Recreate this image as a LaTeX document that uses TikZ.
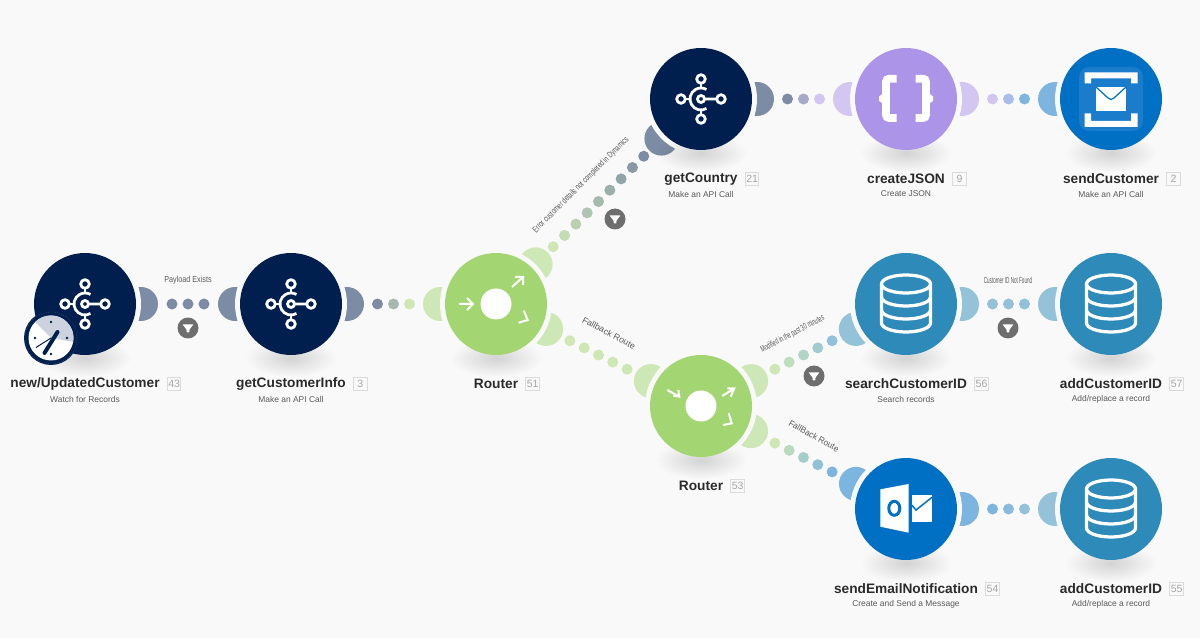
\documentclass[tikz,border=0pt]{standalone}
\usepackage{fontspec}
\setmainfont{Liberation Sans}
\usetikzlibrary{calc,backgrounds,positioning,fadings}
\tikzfading[name=softshadow, inner color=transparent!0, outer color=transparent!100]
\definecolor{bgcol}{HTML}{F9F9F9}
\definecolor{hub}{HTML}{001F4F}
\definecolor{leaf}{HTML}{A3D572}
\definecolor{lilac}{HTML}{AC94E8}
\definecolor{azure}{HTML}{0070C4}
\definecolor{azurelite}{HTML}{1A7CCB}
\definecolor{teal}{HTML}{2E8AB9}
\definecolor{titlecol}{HTML}{2B2B2B}
\definecolor{subcol}{HTML}{5A5A5A}
\definecolor{filtercol}{HTML}{6E6E6E}
\definecolor{wedge}{HTML}{CDD3DE}
\newcommand{\modlink}[6]{%
  \colorlet{linkfrom}{#3!50!bgcol}%
  \colorlet{linkto}{#4!50!bgcol}%
  \begin{pgfonlayer}{background}
    \fill[linkfrom] ($(#1.center)!1.12cm!(#2.center)$) circle (17);
    \fill[linkto] ($(#2.center)!1.12cm!(#1.center)$) circle (17);
  \end{pgfonlayer}
  \foreach \i in {1,...,#5} {
    \pgfmathtruncatemacro{\mixpct}{100*(\i-1)/(#5-1)}
    \pgfmathsetmacro{\dotpos}{0.5+(\i-(#5+1)/2)*#6}
    \path (#1.center) -- (#2.center) node[linkdot, pos=\dotpos, fill=linkto!\mixpct!linkfrom] (#1-#2-\i) {};
  }
}
\begin{document}
\begin{tikzpicture}[x=0.02cm, y=-0.02cm]
      \tikzstyle{module}=[circle, minimum size=2.04cm, inner sep=0]
      \tikzstyle{modtitle}=[inner sep=0, text=titlecol, font=\fontsize{7.8}{9}\selectfont\bfseries]
      \tikzstyle{modsub}=[inner sep=0, text=subcol, font=\fontsize{4.8}{6}\selectfont]
      \tikzstyle{modnum}=[draw=black!14, line width=0.02cm, minimum size=0.27cm, inner sep=0, text=black!35, font=\fontsize{6}{7}\selectfont]
      \tikzstyle{linkdot}=[circle, minimum size=0.22cm, inner sep=0]
      \tikzstyle{linklabel}=[inner sep=0, text=subcol, font=\fontsize{5}{6}\selectfont]
      \tikzstyle{filter}=[circle, minimum size=0.42cm, inner sep=0, fill=filtercol]
      \tikzstyle{iconline}=[white, line width=0.055cm]
      \tikzstyle{dbline}=[white, line width=0.065cm]
      \tikzstyle{modshadow}=[black, fill opacity=0.15, path fading=softshadow]
      \tikzset{
        hubicon/.pic={
          \draw[iconline] (0,0) circle (3.5) (3.5,0) -- (16,0);
          \draw[iconline] (60:11) arc[start angle=60, end angle=300, radius=11];
          \draw[iconline] (0,-11) -- (0,-16) (0,11) -- (0,16) (-11,0) -- (-16,0);
          \draw[iconline] (20,0) circle (4.3) (-20,0) circle (4.3) (0,-20) circle (4.3) (0,20) circle (4.3);
        },
        dbicon/.pic={
          \draw[dbline] (0,-20) circle [x radius=24.5, y radius=9];
          \draw[dbline, line join=round] (-24.5,-20) -- (-24.5,19) arc[start angle=180, end angle=0, x radius=24.5, y radius=9] -- (24.5,-20);
          \draw[dbline] (-24.5,-7) arc[start angle=180, end angle=0, x radius=24.5, y radius=9];
          \draw[dbline] (-24.5,6) arc[start angle=180, end angle=0, x radius=24.5, y radius=9];
        },
        jsonicon/.pic={
          \draw[white, line width=0.155cm, rounded corners=0.06cm] (-9.5,-20.3) -- (-20,-20.3) -- (-20,19) -- (-9.5,19);
          \draw[white, line width=0.155cm, rounded corners=0.06cm] (9.5,-20.3) -- (20,-20.3) -- (20,19) -- (9.5,19);
          \fill[white] (-21,-7) -- (-27,-2.5) -- (-27,2) -- (-21,6) -- cycle;
          \fill[white] (21,-7) -- (27,-2.5) -- (27,2) -- (21,6) -- cycle;
        },
        mailicon/.pic={
          \fill[azurelite, rounded corners=0.2cm] (-32,-32) rectangle (32,32);
          \fill[white] (-26.5,-15.5) -- (-26.5,-26.5) -- (26.5,-26.5) -- (26.5,-15.5) -- (20,-15.5) -- (20,-20.5) -- (-20,-20.5) -- (-20,-15.5) -- cycle;
          \fill[white] (-26.5,14.5) -- (-26.5,28) -- (26.5,28) -- (26.5,14.5) -- (20,14.5) -- (20,22) -- (-20,22) -- (-20,14.5) -- cycle;
          \fill[white] (-15,-12) rectangle (15,12);
          \draw[azure, line width=0.025cm] (-15,-12) -- (-3,-1) .. controls (-1,1) and (1,1) .. (3,-1) -- (15,-12);
        },
        outlookicon/.pic={
          \fill[white] (-25.7,-19.7) -- (2.7,-25) -- (2.7,23.7) -- (-25.7,17.7) -- cycle;
          \draw[azure, line width=0.06cm] (-11.7,-0.7) circle [x radius=5.5, y radius=7];
          \fill[white] (5.7,-14) rectangle (26,12.7);
          \draw[azure, line width=0.03cm] (5.7,-4) -- (10,1) -- (26,-11.7);
        },
        funnelicon/.pic={
          \fill[white, rounded corners=0.01cm] (-5.5,-3.7) -- (5.5,-3.7) -- (1.5,1.5) -- (1.2,4.5) -- (-1.2,4.5) -- (-1.5,1.5) -- cycle;
        }
      }

      \begin{pgfonlayer}{background}
        \fill[bgcol] (0,0) rectangle (1200,638);
      \end{pgfonlayer}
      \useasboundingbox (0,0) rectangle (1200,638);

      \node[module, fill=hub]   (newcust)  at (85,304)   {};
      \node[module, fill=hub]   (getcust)  at (291,304)  {};
      \node[module, fill=leaf]  (router1)  at (496,304)  {};
      \node[module, fill=hub]   (country)  at (701,99)   {};
      \node[module, fill=lilac] (json)     at (906,99)   {};
      \node[module, fill=azure] (sendcust) at (1111,99)  {};
      \node[module, fill=leaf]  (router2)  at (701,406)  {};
      \node[module, fill=teal]  (search)   at (906,304)  {};
      \node[module, fill=teal]  (addcust)  at (1111,304) {};
      \node[module, fill=azure] (email)    at (906,509)  {};
      \node[module, fill=teal]  (addmail)  at (1111,509) {};

      \pic at (newcust) {hubicon};
      \pic at (getcust) {hubicon};
      \pic at (country) {hubicon};
      \pic at (json) {jsonicon};
      \pic at (sendcust) {mailicon};
      \pic at (search) {dbicon};
      \pic at (addcust) {dbicon};
      \pic at (email) {outlookicon};
      \pic at (addmail) {dbicon};

      \fill[white] (router1) circle (15.5);
      \draw[iconline, line width=0.04cm] (459,304) -- (473,304) (467,298) -- (473,304) -- (467,310);
      \draw[iconline, line width=0.04cm] (512,287) -- (523,277) (515,277) -- (523,277) -- (523,285);
      \draw[iconline, line width=0.04cm] (523.7,310.7) -- (527.7,320) -- (518.7,322.7);
      \fill[white] (router2) circle (15.5);
      \draw[iconline, line width=0.04cm] (667.3,390) -- (679.3,396.7) (673.3,395.7) -- (679.3,396.7) -- (678.3,390);
      \draw[iconline, line width=0.04cm] (722.3,396) -- (734.3,388.3) (727.3,388.3) -- (734.3,388.3) -- (730.7,396.7);
      \draw[iconline, line width=0.04cm] (728.7,413.3) -- (731.7,423.3) -- (723.3,425);

      \modlink{newcust}{getcust}{hub}{hub}{3}{0.0777}
      \modlink{getcust}{router1}{hub}{leaf}{3}{0.078}
      \modlink{router1}{country}{leaf}{hub}{9}{0.0552}
      \modlink{country}{json}{hub}{lilac}{3}{0.078}
      \modlink{json}{sendcust}{lilac}{azure}{3}{0.078}
      \modlink{router1}{router2}{leaf}{leaf}{5}{0.0698}
      \modlink{router2}{search}{leaf}{teal}{5}{0.0698}
      \modlink{search}{addcust}{teal}{teal}{3}{0.078}
      \modlink{router2}{email}{leaf}{azure}{5}{0.0698}
      \modlink{email}{addmail}{azure}{teal}{3}{0.078}

      \begin{pgfonlayer}{background}
        \foreach \m in {newcust,getcust,router1,country,json,sendcust,router2,search,addcust,email,addmail}
          \fill[bgcol] (\m.center) circle (56);
        \foreach \m in {newcust,getcust,router1,country,json,sendcust,router2,search,addcust,email,addmail}
          \fill[modshadow] ($(\m.center)+(0,54)$) ellipse (46 and 19);
      \end{pgfonlayer}

      \node[filter] (filter1) at (188,328) {};
      \node[filter] (filter2) at (615,219) {};
      \node[filter] (filter3) at (814,376) {};
      \node[filter] (filter4) at (1008,328) {};
      \pic at (filter1) {funnelicon};
      \pic at (filter2) {funnelicon};
      \pic at (filter3) {funnelicon};
      \pic at (filter4) {funnelicon};

      \node[linklabel] (label1) at (188,280) {\scalebox{0.82}[1]{Payload Exists}};
      \node[linklabel, rotate=45] (label2) at (581,185) {\scalebox{0.68}[1]{Error customer details not completed in Dynamics}};
      \node[linklabel, rotate=-28] (label3) at (609,333) {Fallback Route};
      \node[linklabel, rotate=27.5] (label4) at (792.5,334) {\scalebox{0.58}[1]{Modified in the past 30 minutes}};
      \node[linklabel, rotate=-29] (label5) at (814,436) {\scalebox{0.94}[1]{FallBack Route}};
      \node[linklabel] (label6) at (1008,280) {\scalebox{0.52}[1]{Customer ID Not Found}};

      \node[modtitle] (t43) at (85,384)   {new/UpdatedCustomer};
      \node[modtitle] (t3)  at (291,384)  {getCustomerInfo};
      \node[modtitle] (t51) at (496,384)  {Router};
      \node[modtitle] (t21) at (701,179)  {getCountry};
      \node[modtitle] (t9)  at (906,179)  {createJSON};
      \node[modtitle] (t2)  at (1111,179) {sendCustomer};
      \node[modtitle] (t53) at (701,486)  {Router};
      \node[modtitle] (t56) at (906,384)  {searchCustomerID};
      \node[modtitle] (t57) at (1111,384) {addCustomerID};
      \node[modtitle] (t54) at (906,589)  {sendEmailNotification};
      \node[modtitle] (t55) at (1111,589) {addCustomerID};

      \node[modnum, right=0.14cm of t43] (n43) {43};
      \node[modnum, right=0.14cm of t3]  (n3)  {3};
      \node[modnum, right=0.14cm of t51] (n51) {51};
      \node[modnum, right=0.14cm of t21] (n21) {21};
      \node[modnum, right=0.14cm of t9]  (n9)  {9};
      \node[modnum, right=0.14cm of t2]  (n2)  {2};
      \node[modnum, right=0.14cm of t53] (n53) {53};
      \node[modnum, right=0.14cm of t56] (n56) {56};
      \node[modnum, right=0.14cm of t57] (n57) {57};
      \node[modnum, right=0.14cm of t54] (n54) {54};
      \node[modnum, right=0.14cm of t55] (n55) {55};

      \node[modsub] (s43) at (85,399)   {Watch for Records};
      \node[modsub] (s3)  at (291,399)  {Make an API Call};
      \node[modsub] (s21) at (701,194)  {Make an API Call};
      \node[modsub] (s9)  at (906,194)  {Create JSON};
      \node[modsub] (s2)  at (1111,194) {Make an API Call};
      \node[modsub] (s56) at (906,399)  {Search records};
      \node[modsub] (s57) at (1111,399) {Add/replace a record};
      \node[modsub] (s54) at (906,604)  {Create and Send a Message};
      \node[modsub] (s55) at (1111,604) {Add/replace a record};

      \node[circle, minimum size=1.08cm, inner sep=0, fill=hub] (clock) at (51,338) {};
      \draw[hub!70!white, line width=0.01cm, densely dotted] (clock.center) circle (26);
      \fill[white] (clock.center) circle (22.5);
      \fill[wedge] (clock.center) -- ++(-15.9,-15.9) arc[start angle=225, end angle=370, radius=22.5] -- cycle;
      \foreach \a in {0,90,180,270}
        \fill[hub] (clock.center) ++(\a:16) circle (1.4);
      \draw[hub, line width=0.02cm] (clock.center) -- ++(-15,9.5);
      \draw[hub, line width=0.08cm, line cap=round] (44.5,353) -- (57.5,332);
\end{tikzpicture}
\end{document}
